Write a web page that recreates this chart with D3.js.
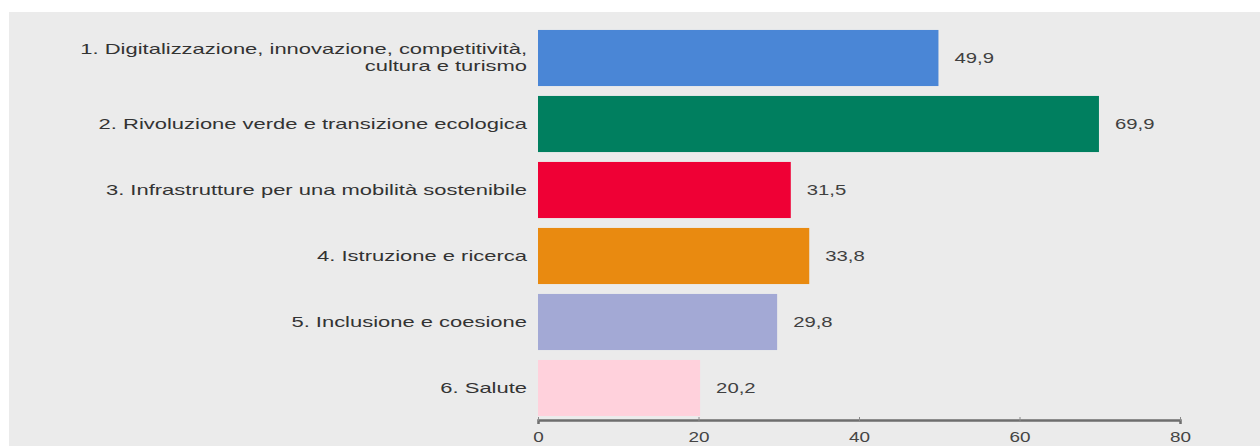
<!DOCTYPE html>
<html>
<head>
<meta charset="utf-8">
<script src="https://cdn.jsdelivr.net/npm/d3@7"></script>
<style>
  body { margin: 0; background: #ffffff; }
  svg { display: block; }
</style>
</head>
<body>
<svg id="chart" width="1260" height="446"></svg>
<script>
// categories (each one may span several lines)
var categories = [
  ["1. Digitalizzazione, innovazione, competitività,", "cultura e turismo"],
  ["2. Rivoluzione verde e transizione ecologica"],
  ["3. Infrastrutture per una mobilità sostenibile"],
  ["4. Istruzione e ricerca"],
  ["5. Inclusione e coesione"],
  ["6. Salute"]
];
var values = [49.9, 69.9, 31.5, 33.8, 29.8, 20.2];
var barColors = ["#4a86d6", "#007f5f", "#ef0035", "#e98a10", "#a3a9d5", "#ffd1dc"];
var xTicks = [0, 20, 40, 60, 80];

var fontFamily = "Liberation Sans, Arial, sans-serif";

var drawChart = function() {
  let svg = d3.select("#chart");

  // grey panel
  svg.append("rect")
    .attr("x", 9)
    .attr("y", 12)
    .attr("width", 1260 - 9)
    .attr("height", 446 - 12)
    .attr("fill", "#ebebeb");

  let xScale = d3.scaleLinear()
    .domain([0, 80])
    .range([538, 1180]);

  let yScale = d3.scaleBand()
    .domain(d3.range(categories.length))
    .range([25, 421])
    .paddingInner(0.15)
    .paddingOuter(0.075);

  let plot = svg.append("g").attr("id", "plot");

  // bars
  plot.selectAll("rect.bar")
    .data(values)
    .enter().append("rect")
    .attr("class", "bar")
    .attr("x", xScale(0))
    .attr("y", (d, i) => yScale(i))
    .attr("width", (d) => xScale(d) - xScale(0))
    .attr("height", yScale.bandwidth())
    .attr("fill", (d, i) => barColors[i]);

  // value labels (the source picture is stretched sideways, so scale x)
  plot.selectAll("text.value")
    .data(values)
    .enter().append("text")
    .attr("class", "value")
    .attr("transform", (d, i) => "translate(" + (xScale(d) + 16) + "," + (yScale(i) + yScale.bandwidth() / 2) + ") scale(1.45,1)")
    .attr("dy", "0.35em")
    .text((d) => d3.format(".1f")(d).replace(".", ","))
    .style("fill", "#404040")
    .style("font-size", "14px")
    .style("font-family", fontFamily);

  // category labels
  let labels = plot.selectAll("text.cat")
    .data(categories)
    .enter().append("text")
    .attr("class", "cat")
    .attr("text-anchor", "end")
    .attr("transform", (d, i) => "translate(527," + (yScale(i) + yScale.bandwidth() / 2) + ") scale(1.57,1)")
    .style("fill", "#333333")
    .style("font-size", "14px")
    .style("font-family", fontFamily);

  labels.each(function(lines) {
    let t = d3.select(this);
    let lh = 17;
    let startY = -(lines.length - 1) * lh / 2;
    lines.forEach((line, k) => {
      t.append("tspan")
        .attr("x", 0)
        .attr("y", startY + k * lh)
        .attr("dy", "0.35em")
        .text(line);
    });
  });

  // x axis
  let xAxis = d3.axisBottom(xScale)
    .tickValues(xTicks)
    .tickSize(4)
    .tickPadding(6);

  let xGroup = svg.append("g")
    .attr("id", "x-axis")
    .attr("transform", "translate(0,420)")
    .call(xAxis);

  xGroup.select(".domain")
    .attr("stroke", "#6e6e6e")
    .attr("stroke-width", 2.5);
  xGroup.selectAll(".tick line")
    .attr("stroke", "#8a8a8a")
    .attr("transform", "translate(0,-3)");
  xGroup.selectAll(".tick text")
    .attr("transform", "translate(0,2) scale(1.35,1)")
    .style("fill", "#444444")
    .style("font-size", "14px")
    .style("font-family", fontFamily);
};

drawChart();
</script>
</body>
</html>
